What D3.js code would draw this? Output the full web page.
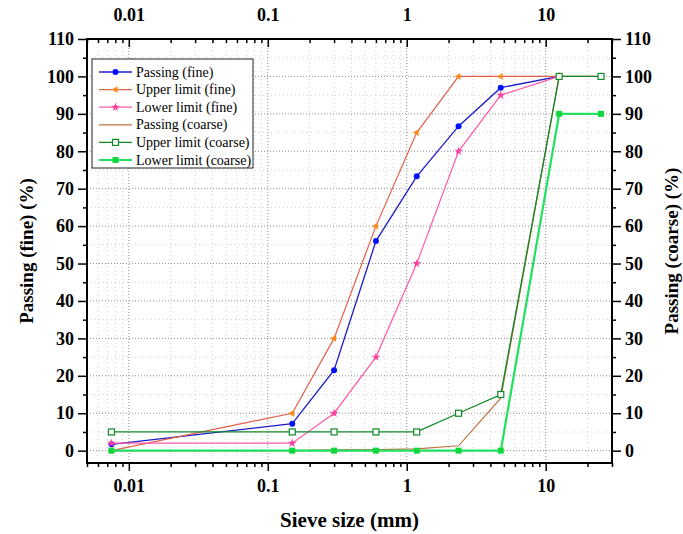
<!DOCTYPE html>
<html>
<head>
<meta charset="utf-8">
<script src="https://cdn.jsdelivr.net/npm/d3@7"></script>
<style>
  body { margin: 0; background: #fff; }
  text { font-family: "Liberation Serif", "Times New Roman", serif; }
</style>
</head>
<body>
<div id="chart"></div>
<script>
// ---------------------------//
//            DATA            //
// ---------------------------//
var sieveFine = [0.0075, 0.15, 0.3, 0.6, 1.18, 2.36, 4.75, 12.5];
var sieveCoarse = [0.0075, 0.15, 0.3, 0.6, 1.18, 2.36, 4.75, 12.5, 25];

var passingFine = [1.7, 7.2, 21.5, 56, 73.3, 86.7, 97, 100];
var upperFine = [0, 10, 30, 60, 85, 100, 100, 100];
var lowerFine = [2, 2, 10, 25, 50, 80, 95, 100];

var passingCoarse = [0, 0, 0.2, 0.3, 0.5, 1.3, 14, 100, 100];
var upperCoarse = [5, 5, 5, 5, 5, 10, 15, 100, 100];
var lowerCoarse = [0, 0, 0, 0, 0, 0, 0, 90, 90];

var xTicks = [0.01, 0.1, 1, 10];
var yTicks = [0, 10, 20, 30, 40, 50, 60, 70, 80, 90, 100, 110];

var seriesNames = ["Passing (fine)", "Upper limit (fine)", "Lower limit (fine)",
                   "Passing (coarse)", "Upper limit (coarse)", "Lower limit (coarse)"];

// ---------------------------//
//         DIMENSIONS         //
// ---------------------------//
var width = 683, height = 534;
var margin = { top: 39, right: 71, bottom: 71, left: 87 };

var svg = d3.select("#chart").append("svg")
  .attr("width", width).attr("height", height);

var x = d3.scaleLog().domain([0.005, 30]).range([margin.left, width - margin.right]);
var y = d3.scaleLinear().domain([-3.3, 110]).range([height - margin.bottom, margin.top]);

var x0 = margin.left, x1 = width - margin.right;
var y0 = height - margin.bottom, y1 = margin.top;

// minor values
var xMinor = [];
[0.001, 0.01, 0.1, 1, 10].forEach(function(p) {
  for (var k = 2; k <= 9; k++) {
    var v = p * k;
    if (v >= 0.005 && v <= 30) xMinor.push(v);
  }
});
var yMinor = d3.range(5, 110, 10);

// ---------------------------//
//            GRID            //
// ---------------------------//
var grid = svg.append("g");
grid.selectAll(".xm").data(xMinor).enter().append("line")
  .attr("x1", d => x(d)).attr("x2", d => x(d))
  .attr("y1", y1).attr("y2", y0)
  .attr("stroke", "#cfcfcf").attr("stroke-dasharray", "1,3");
grid.selectAll(".ym").data(yMinor).enter().append("line")
  .attr("x1", x0).attr("x2", x1)
  .attr("y1", d => y(d)).attr("y2", d => y(d))
  .attr("stroke", "#cfcfcf").attr("stroke-dasharray", "1,3");
grid.selectAll(".xM").data(xTicks).enter().append("line")
  .attr("x1", d => x(d)).attr("x2", d => x(d))
  .attr("y1", y1).attr("y2", y0)
  .attr("stroke", "#8f8f8f").attr("stroke-dasharray", "1,2");
grid.selectAll(".yM").data(yTicks.slice(0, -1)).enter().append("line")
  .attr("x1", x0).attr("x2", x1)
  .attr("y1", d => y(d)).attr("y2", d => y(d))
  .attr("stroke", "#8f8f8f").attr("stroke-dasharray", "1,2");

// ---------------------------//
//           SERIES           //
// ---------------------------//
function pts(xs, ys) { return ys.map(function(v, i) { return [xs[i], v]; }); }

var line = d3.line().x(d => x(d[0])).y(d => y(d[1]));

var series = [
  { name: seriesNames[0], data: pts(sieveFine, passingFine), line: "#1c1cc8", mark: "#0010ff", sym: "circle", w: 1.3 },
  { name: seriesNames[1], data: pts(sieveFine, upperFine), line: "#e0604a", mark: "#ff8a1c", sym: "tri", w: 1.2 },
  { name: seriesNames[2], data: pts(sieveFine, lowerFine), line: "#ff5aa8", mark: "#ff3fa0", sym: "star", w: 1.2 },
  { name: seriesNames[3], data: pts(sieveCoarse, passingCoarse), line: "#c27040", mark: null, sym: null, w: 1.2 },
  { name: seriesNames[4], data: pts(sieveCoarse, upperCoarse), line: "#108a28", mark: "#108a28", sym: "open", w: 1.3 },
  { name: seriesNames[5], data: pts(sieveCoarse, lowerCoarse), line: "#22e060", mark: "#10d83c", sym: "square", w: 2.2 }
];

function drawMarker(g, sym, color, cx, cy) {
  if (sym === "circle") {
    g.append("circle").attr("cx", cx).attr("cy", cy).attr("r", 3).attr("fill", color);
  } else if (sym === "tri") {
    g.append("path").attr("d", d3.symbol().type(d3.symbolTriangle).size(20)())
      .attr("transform", "translate(" + cx + "," + cy + ") rotate(-90)").attr("fill", color);
  } else if (sym === "star") {
    g.append("path").attr("d", d3.symbol().type(d3.symbolStar).size(24)())
      .attr("transform", "translate(" + cx + "," + cy + ")").attr("fill", color);
  } else if (sym === "open") {
    g.append("rect").attr("x", cx - 3).attr("y", cy - 3).attr("width", 6).attr("height", 6)
      .attr("fill", "#fff").attr("stroke", color).attr("stroke-width", 1.2);
  } else if (sym === "square") {
    g.append("rect").attr("x", cx - 3).attr("y", cy - 3).attr("width", 6).attr("height", 6)
      .attr("fill", color);
  }
}

series.forEach(function(s) {
  var g = svg.append("g");
  g.append("path").datum(s.data).attr("d", line)
    .attr("fill", "none").attr("stroke", s.line).attr("stroke-width", s.w);
  if (s.sym) {
    s.data.forEach(function(d) { drawMarker(g, s.sym, s.mark, x(d[0]), y(d[1])); });
  }
});

// ---------------------------//
//            AXES            //
// ---------------------------//
var fmt = d => String(d);
var tickFont = g => g.selectAll("text")
  .style("font-family", "'Liberation Serif', serif").style("font-weight", "bold")
  .style("font-size", "18px").attr("fill", "#000");

// bottom
svg.append("g").attr("transform", "translate(0," + y0 + ")")
  .call(d3.axisBottom(x).tickValues(xMinor).tickSize(4).tickFormat(""))
  .call(g => g.select(".domain").remove())
  .selectAll("line").attr("stroke-width", 1.5);
svg.append("g").attr("transform", "translate(0," + y0 + ")")
  .call(d3.axisBottom(x).tickValues(xTicks).tickSize(8).tickPadding(8).tickFormat(fmt))
  .call(g => g.select(".domain").remove())
  .call(tickFont)
  .selectAll("line").attr("stroke-width", 1.5);

// top (ticks inward)
svg.append("g").attr("transform", "translate(0," + y1 + ")")
  .call(d3.axisTop(x).tickValues(xMinor).tickSize(-4).tickFormat(""))
  .call(g => g.select(".domain").remove())
  .selectAll("line").attr("stroke-width", 1.5);
svg.append("g").attr("transform", "translate(0," + y1 + ")")
  .call(d3.axisTop(x).tickValues(xTicks).tickSize(-8).tickPadding(18).tickFormat(fmt))
  .call(g => g.select(".domain").remove())
  .call(tickFont)
  .selectAll("line").attr("stroke-width", 1.5);

// left
svg.append("g").attr("transform", "translate(" + x0 + ",0)")
  .call(d3.axisLeft(y).tickValues(yMinor).tickSize(4).tickFormat(""))
  .call(g => g.select(".domain").remove())
  .selectAll("line").attr("stroke-width", 1.5);
svg.append("g").attr("transform", "translate(" + x0 + ",0)")
  .call(d3.axisLeft(y).tickValues(yTicks).tickSize(9).tickPadding(4).tickFormat(fmt))
  .call(g => g.select(".domain").remove())
  .call(tickFont)
  .selectAll("line").attr("stroke-width", 1.5);

// right
svg.append("g").attr("transform", "translate(" + x1 + ",0)")
  .call(d3.axisRight(y).tickValues(yMinor).tickSize(4).tickFormat(""))
  .call(g => g.select(".domain").remove())
  .selectAll("line").attr("stroke-width", 1.5);
svg.append("g").attr("transform", "translate(" + x1 + ",0)")
  .call(d3.axisRight(y).tickValues(yTicks).tickSize(9).tickPadding(4).tickFormat(fmt))
  .call(g => g.select(".domain").remove())
  .call(tickFont)
  .selectAll("line").attr("stroke-width", 1.5);

// frame
svg.append("rect").attr("x", x0).attr("y", y1)
  .attr("width", x1 - x0).attr("height", y0 - y1)
  .attr("fill", "none").attr("stroke", "#000").attr("stroke-width", 2);

// ---------------------------//
//           TITLES           //
// ---------------------------//
svg.append("text").attr("x", (x0 + x1) / 2).attr("y", 527)
  .attr("text-anchor", "middle").style("font-weight", "bold").style("font-size", "21px")
  .text("Sieve size (mm)");
svg.append("text").attr("transform", "translate(33," + ((y0 + y1) / 2) + ") rotate(-90)")
  .attr("text-anchor", "middle").style("font-weight", "bold").style("font-size", "19px")
  .text("Passing (fine) (%)");
svg.append("text").attr("transform", "translate(678," + ((y0 + y1) / 2) + ") rotate(-90)")
  .attr("text-anchor", "middle").style("font-weight", "bold").style("font-size", "19px")
  .text("Passing (coarse) (%)");

// ---------------------------//
//           LEGEND           //
// ---------------------------//
var lg = svg.append("g");
lg.append("rect").attr("x", 92).attr("y", 59).attr("width", 161).attr("height", 109)
  .attr("fill", "#fff").attr("stroke", "#222").attr("stroke-width", 1);
series.forEach(function(s, i) {
  var ly = 72 + i * 17.6;
  lg.append("line").attr("x1", 99).attr("x2", 132).attr("y1", ly).attr("y2", ly)
    .attr("stroke", s.line).attr("stroke-width", s.w);
  if (s.sym) drawMarker(lg, s.sym, s.mark, 115.5, ly);
  lg.append("text").attr("x", 136).attr("y", ly + 4.5)
    .style("font-family", "'Liberation Serif', serif")
    .style("font-size", "14px").attr("fill", "#000").text(s.name);
});
</script>
</body>
</html>
